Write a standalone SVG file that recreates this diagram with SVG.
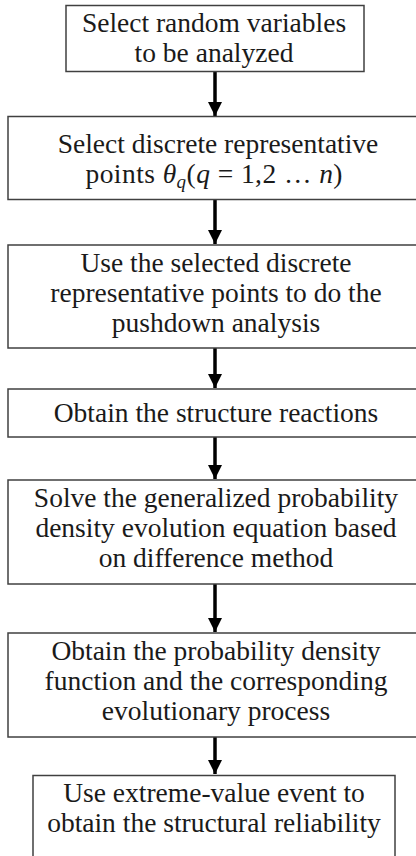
<svg xmlns="http://www.w3.org/2000/svg" width="416" height="856" viewBox="0 0 416 856">
<style>
.box{fill:#fff;stroke:#404040;stroke-width:1.5}
.t{font-family:"Liberation Serif","Times New Roman",serif;font-size:27.5px;fill:#1a1a1a;text-anchor:middle}
.m{font-style:italic}
.con{stroke:#000;stroke-width:3.5;fill:none}
</style>
<defs>
<marker id="ah" markerWidth="4" markerHeight="4" refX="4" refY="2" orient="auto" markerUnits="strokeWidth">
<path d="M0,0 L4,2 L0,4 z" fill="#000"/>
</marker>
</defs>
<rect width="416" height="856" fill="#fff"/>
<g id="connectors">
<line class="con" x1="215" y1="72" x2="215" y2="116" marker-end="url(#ah)"/>
<line class="con" x1="215" y1="200" x2="215" y2="244" marker-end="url(#ah)"/>
<line class="con" x1="215" y1="348" x2="215" y2="388" marker-end="url(#ah)"/>
<line class="con" x1="215" y1="437" x2="215" y2="479" marker-end="url(#ah)"/>
<line class="con" x1="215" y1="584" x2="215" y2="632" marker-end="url(#ah)"/>
<line class="con" x1="215" y1="737" x2="215" y2="774" marker-end="url(#ah)"/>
</g>
<g id="n1">
<rect class="box" x="66" y="5.5" width="298" height="66"/>
<text class="t" x="214" y="32">Select random variables</text>
<text class="t" x="214" y="62">to be analyzed</text>
</g>
<g id="n2">
<rect class="box" x="8" y="116.5" width="420" height="83"/>
<text class="t" x="218" y="153" font-size="29">Select discrete representative</text>
<text class="t" x="214" y="183" textLength="257" lengthAdjust="spacing">points <tspan class="m">θ</tspan><tspan class="m" font-size="19" dy="5">q</tspan><tspan dy="-5">(</tspan><tspan class="m">q</tspan> = 1,2 … <tspan class="m">n</tspan>)</text>
</g>
<g id="n3">
<rect class="box" x="8" y="245" width="420" height="103"/>
<text class="t" x="216" y="272">Use the selected discrete</text>
<text class="t" x="216" y="302">representative points to do the</text>
<text class="t" x="216" y="332">pushdown analysis</text>
</g>
<g id="n4">
<rect class="box" x="8" y="389" width="420" height="48"/>
<text class="t" x="216" y="422">Obtain the structure reactions</text>
</g>
<g id="n5">
<rect class="box" x="8" y="480" width="420" height="104"/>
<text class="t" x="216" y="507">Solve the generalized probability</text>
<text class="t" x="216" y="537">density evolution equation based</text>
<text class="t" x="216" y="567">on difference method</text>
</g>
<g id="n6">
<rect class="box" x="8" y="633" width="420" height="104"/>
<text class="t" x="216" y="660">Obtain the probability density</text>
<text class="t" x="216" y="690">function and the corresponding</text>
<text class="t" x="216" y="720">evolutionary process</text>
</g>
<g id="n7">
<rect class="box" x="33" y="775.5" width="362" height="100"/>
<text class="t" x="214" y="802">Use extreme-value event to</text>
<text class="t" x="214" y="832">obtain the structural reliability</text>
</g>
</svg>
